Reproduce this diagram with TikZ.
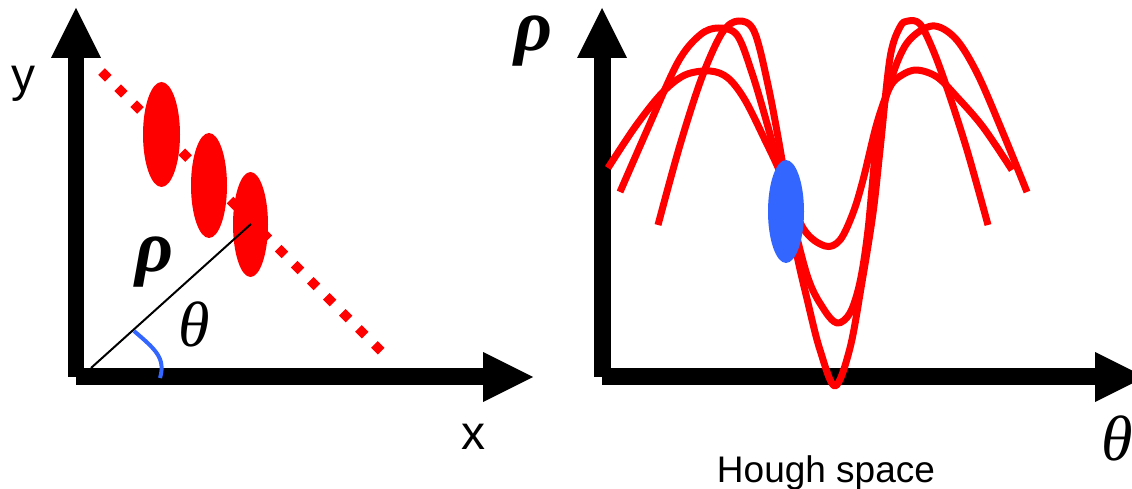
\RequirePackage{fix-cm}
\documentclass[tikz,border=0pt]{standalone}
\usepackage{fontspec}
\newfontfamily\arial{Liberation Sans}
\newfontfamily\tms{Liberation Serif}
\definecolor{hred}{RGB}{255,0,0}
\definecolor{hblue}{RGB}{51,102,255}
\begin{document}
\begin{tikzpicture}[x=1pt,y=-1pt,
  bar/.style={fill=black,draw=none},
  curve/.style={draw=hred,line width=7pt,line join=round},
  blob/.style={fill=hred,draw=none},
  sanslab/.style={inner sep=0pt,anchor=base,font=\arial\fontsize{48}{48}\selectfont},
  rholab/.style={inner sep=0pt,anchor=base,text height=35pt,font=\tms\bfseries\itshape\fontsize{74}{74}\selectfont},
  thetalab/.style={inner sep=0pt,anchor=base,font=\tms\itshape\fontsize{64}{64}\selectfont}
]
\useasboundingbox (0,0) rectangle (1132,489);

% ---------- left panel: axes ----------
\fill[bar] (68,56) rectangle (84,377);
\fill[bar] (76,368) rectangle (484,385);
\fill[bar] (51,58) -- (101,58) -- (76,8) -- cycle;
\fill[bar] (483,352) -- (483,402) -- (533,377) -- cycle;

% dotted red line
\coordinate (d1) at (101.6,71.6);
\coordinate (d2) at (381.4,351.4);
\draw[hred,line width=9.5pt,dash pattern=on 9.5pt off 13.2pt] (d1) -- (d2);

% red blobs
\fill[blob] (161.5,134.5) ellipse [x radius=18.5,y radius=52.5];
\fill[blob] (209,185.5) ellipse [x radius=18,y radius=52.5];
\fill[blob] (250.5,224.5) ellipse [x radius=17.5,y radius=52.5];

% rho line and angle arc
\coordinate (o) at (91,368);
\coordinate (p) at (251,224);
\draw[black,line width=2pt] (o) -- (p);
\draw[hblue,line width=4pt] (134,331) .. controls (155,349) and (166,358) .. (160,378);

% labels
\node[sanslab] (ylab) at (24,92) {y};
\node[sanslab] (xlab) at (473,449) {x};
\node[rholab] (rho1) at (155,271) {ρ};
\node[thetalab] (theta1) at (194,346) {θ};

% ---------- right panel: axes ----------
\fill[bar] (594,56) rectangle (611,377);
\fill[bar] (602,368) rectangle (1096,385);
\fill[bar] (577,58) -- (627,58) -- (602,8) -- cycle;
\fill[bar] (1095,352) -- (1095,402) -- (1145,377) -- cycle;

% Hough curves
\draw[curve] plot[smooth,tension=0.55] coordinates {(658,225) (680,145) (702,77) (722,33) (738,21) (754,31) (768,85) (782,160) (795,245) (808,303) (820,350) (835,386) (850,348) (862,282) (873,213) (880,150) (890,58) (900,27) (908,21) (920,24) (933,50) (947,88) (967,150) (988,225)};
\draw[curve] plot[smooth,tension=0.55] coordinates {(620,192) (648,128) (678,62) (700,35) (718,28) (737,35) (752,73) (768,127) (785,190) (807,275) (823,308) (837,323) (850,313) (860,282) (868,230) (877,140) (890,83) (907,43) (932,26) (955,38) (977,73) (1003,133) (1027,192)};
\draw[curve] plot[smooth,tension=0.55] coordinates {(608,168) (635,127) (662,93) (685,75) (710,71) (728,78) (745,100) (765,140) (780,172) (803,228) (825,246) (840,240) (853,213) (863,180) (877,123) (890,87) (902,75) (917,70) (937,77) (957,97) (983,127) (1012,170)};

% blue intersection blob
\fill[hblue] (786,211.5) ellipse [x radius=18,y radius=51.5];

% labels
\node[rholab] (rho2) at (534,51) {ρ};
\node[thetalab] (theta2) at (1117,460) {θ};
\node[inner sep=0pt,anchor=base,font=\arial\fontsize{37}{37}\selectfont] (hough) at (826,482) {Hough space};
\end{tikzpicture}
\end{document}
